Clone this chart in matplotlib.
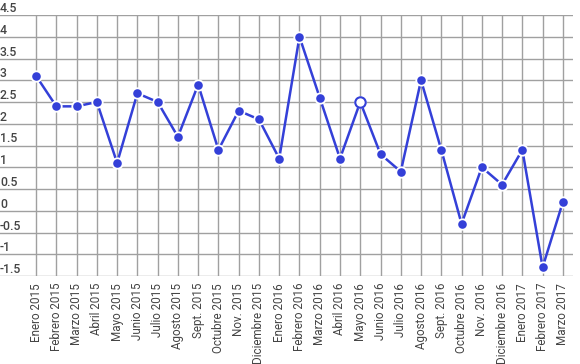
import numpy as np
import matplotlib.pyplot as plt

plt.rcParams['font.family'] = ['Roboto', 'DejaVu Sans']

months = ['Enero 2015', 'Febrero 2015', 'Marzo 2015', 'Abril 2015', 'Mayo 2015',
          'Junio 2015', 'Julio 2015', 'Agosto 2015', 'Sept. 2015', 'Octubre 2015',
          'Nov. 2015', 'Diciembre 2015', 'Enero 2016', 'Febrero 2016', 'Marzo 2016',
          'Abril 2016', 'Mayo 2016', 'Junio 2016', 'Julio 2016', 'Agosto 2016',
          'Sept. 2016', 'Octubre 2016', 'Nov. 2016', 'Diciembre 2016', 'Enero 2017',
          'Febrero 2017', 'Marzo 2017']
values = [3.1, 2.4, 2.4, 2.5, 1.1, 2.7, 2.5, 1.7, 2.9, 1.4,
          2.3, 2.1, 1.2, 4.0, 2.6, 1.2, 2.5, 1.3, 0.9, 3.0,
          1.4, -0.3, 1.0, 0.6, 1.4, -1.3, 0.2]
highlight = 'Mayo 2016'
yticks = [-1.5, -1, -0.5, 0, 0.5, 1, 1.5, 2, 2.5, 3, 3.5, 4, 4.5]

blue = '#3440d8'
fig = plt.figure(figsize=(5.8, 3.64), dpi=100)
ax = fig.add_axes([0, 1 - 276 / 364, 573 / 580, 261 / 364])

x = np.arange(len(months))
ax.set_xlim(-1.78, len(months) - 0.5)
ax.set_ylim(-1.5, 4.5)

# grid
for xi in x:
    ax.axvline(xi, color='#a0a0a0', lw=1, zorder=0)
for yv in yticks:
    ax.axhline(yv, color='#a0a0a0', lw=1, zorder=0)
    lbl = ('%g' % yv)
    ax.text(-1.78, yv, lbl, ha='left', va='bottom', fontsize=8.8,
            color='#444444', fontweight='medium', clip_on=False)

ax.plot(x, values, color=blue, lw=1.8, zorder=2, clip_on=False)
ax.plot(x, values, 'o', color=blue, markersize=7.5, markeredgecolor='white',
        markeredgewidth=1.3, zorder=3, clip_on=False)
hi = months.index(highlight)
ax.plot(x[hi], values[hi], 'o', markerfacecolor='white', markeredgecolor=blue,
        markersize=7.5, markeredgewidth=1.5, zorder=4)

ax.set_xticks(x)
ax.set_xticklabels(months, rotation=90, fontsize=8.4, color='#444444')
ax.tick_params(axis='x', length=0, pad=5)
ax.set_yticks([])
for s in ax.spines.values():
    s.set_visible(False)

fig.savefig('out.png', dpi=100)
